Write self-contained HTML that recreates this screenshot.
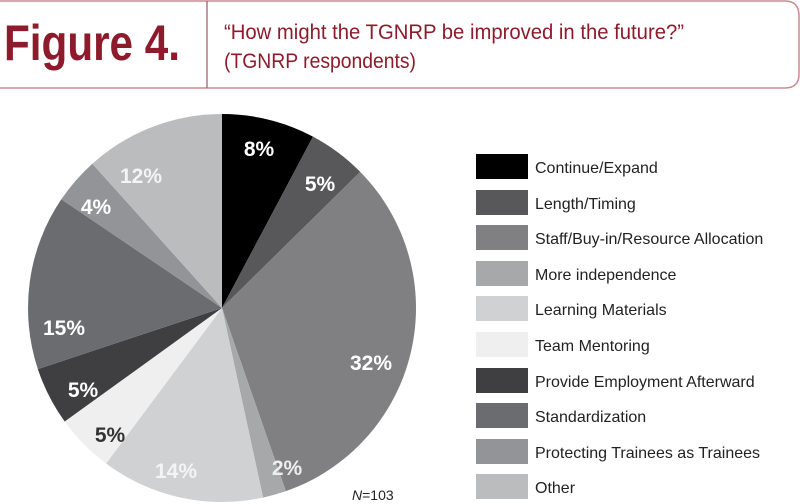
<!DOCTYPE html>
<html><head><meta charset="utf-8"><style>html,body{margin:0;padding:0;background:#fff}svg{display:block}</style></head>
<body>
<svg width="800" height="504" viewBox="0 0 800 504" xmlns="http://www.w3.org/2000/svg" font-family="Liberation Sans, sans-serif">
<line x1="0" y1="1" x2="785" y2="1" stroke="#c98a93" stroke-width="1.5"/>
<line x1="0" y1="88" x2="785" y2="88" stroke="#c98a93" stroke-width="1.5"/>
<path d="M785 1 Q799 1 799 16 L799 74 Q799 88 785 88" fill="none" stroke="#c98a93" stroke-width="1.5"/>
<line x1="207" y1="1" x2="207" y2="88" stroke="#a05560" stroke-width="1.2"/>
<text x="4" y="60" font-size="50" font-weight="bold" fill="#8e1b2b" textLength="176" lengthAdjust="spacingAndGlyphs">Figure 4.</text>
<text x="224" y="39" font-size="21" fill="#8e1b2b" textLength="460" lengthAdjust="spacingAndGlyphs">“How might the TGNRP be improved in the future?”</text>
<text x="224" y="68" font-size="21" fill="#8e1b2b" textLength="192" lengthAdjust="spacingAndGlyphs">(TGNRP respondents)</text>
<g id="pie"></g>
<g font-size="16" fill="#222">
<rect x="476" y="154" width="52" height="25" fill="#000"/><text x="535" y="173">Continue/Expand</text>
<rect x="476" y="190" width="52" height="25" fill="#58585a"/><text x="535" y="209">Length/Timing</text>
<rect x="476" y="225" width="52" height="25" fill="#808083"/><text x="535" y="244">Staff/Buy-in/Resource Allocation</text>
<rect x="476" y="261" width="52" height="25" fill="#a7a8aa"/><text x="535" y="280">More independence</text>
<rect x="476" y="296" width="52" height="25" fill="#d0d1d3"/><text x="535" y="315">Learning Materials</text>
<rect x="476" y="332" width="52" height="25" fill="#efeff0"/><text x="535" y="351">Team Mentoring</text>
<rect x="476" y="368" width="52" height="25" fill="#3f3f41"/><text x="535" y="387">Provide Employment Afterward</text>
<rect x="476" y="403" width="52" height="25" fill="#6b6c6f"/><text x="535" y="422">Standardization</text>
<rect x="476" y="439" width="52" height="25" fill="#939497"/><text x="535" y="458">Protecting Trainees as Trainees</text>
<rect x="476" y="474" width="52" height="25" fill="#bbbcbe"/><text x="535" y="493">Other</text>
</g>
<text x="352" y="500" font-size="14" fill="#222"><tspan font-style="italic">N</tspan>=103</text>
<g font-size="21" font-weight="bold" text-anchor="middle">
<text x="259" y="156" fill="#fff">8%</text>
<text x="320" y="191" fill="#fff">5%</text>
<text x="371" y="370" fill="#fff">32%</text>
<text x="287" y="475" fill="#eee">2%</text>
<text x="176" y="478" fill="#f4f4f4">14%</text>
<text x="110" y="442" fill="#333">5%</text>
<text x="83" y="397" fill="#fff">5%</text>
<text x="64" y="335" fill="#fff">15%</text>
<text x="96" y="214" fill="#fff">4%</text>
<text x="141" y="183" fill="#f4f4f4">12%</text>
</g>
<script>
(function(){
var cx=222,cy=308,r=194;
var d=[[8,"#000"],[5,"#58585a"],[33,"#808083"],[2,"#a7a8aa"],[14,"#d0d1d3"],[5,"#efeff0"],[5,"#3f3f41"],[15,"#6b6c6f"],[4,"#939497"],[12,"#bbbcbe"]];
var g=document.getElementById("pie"),c=0,ns="http://www.w3.org/2000/svg";
d.forEach(function(s){
var a0=c/103*2*Math.PI;c+=s[0];var a1=c/103*2*Math.PI;
var x0=cx+r*Math.sin(a0),y0=cy-r*Math.cos(a0),x1=cx+r*Math.sin(a1),y1=cy-r*Math.cos(a1);
var p=document.createElementNS(ns,"path");
p.setAttribute("d","M"+cx+" "+cy+"L"+x0+" "+y0+"A"+r+" "+r+" 0 "+((a1-a0)>Math.PI?1:0)+" 1 "+x1+" "+y1+"Z");
p.setAttribute("fill",s[1]);g.appendChild(p);});
})();
</script>
</svg>
</body></html>
